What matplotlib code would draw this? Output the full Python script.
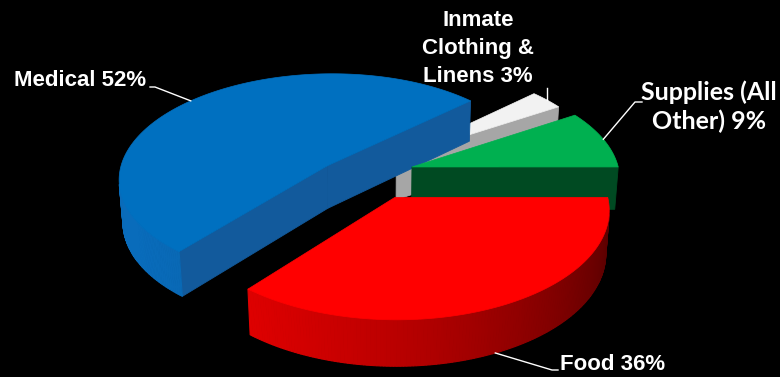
import numpy as np
import matplotlib
matplotlib.use("Agg")
import matplotlib.pyplot as plt
from matplotlib.patches import Polygon
from matplotlib import colors as mcolors

# ---------------- data ----------------
categories = ["Food", "Medical", "Inmate\nClothing &\nLinens", "Supplies (All\nOther)"]
shares = [36, 52, 3, 9]

# ---------------- style / layout ----------------
top_colors = ["#FF0000", "#0070C0", "#F2F2F2", "#00B050"]
wall_colors = ["#FF0000", "#0A78D0", "#B0B0B0", "#00A048"]
cut_colors = ["#8B0000", "#125A9C", "#A6A6A6", "#004A22"]
# explode displacement of each slice on the pie plane (radius units)
slice_shift = [(0.07, -0.21), (-0.257, 0.088), (0.08, 0.17), (0.155, 0.078)]

start_angle = 0.0          # degrees, slices run clockwise
tilt = np.arcsin(0.5)      # viewing elevation
cam_dist = 8.0             # perspective distance (radius units)
thickness = 0.24
scale_px = 208
origin_px = (380, 175)
light_angle = -155.0

W, H = 780, 377
fig = plt.figure(figsize=(W / 100, H / 100), dpi=100, facecolor="black")
ax = fig.add_axes([0, 0, 1, 1])
ax.set_xlim(0, W)
ax.set_ylim(H, 0)
ax.axis("off")
ax.set_facecolor("black")

S, C = np.sin(tilt), np.cos(tilt)
cam = np.array([0.0, -cam_dist * C, cam_dist * S])


def project(X, Y, Z):
    X = np.asarray(X, float)
    Y = np.asarray(Y, float)
    Z = np.asarray(Z, float)
    depth = cam_dist + Y * C - Z * S
    up = Y * S + Z * C
    f = cam_dist / depth
    return origin_px[0] + scale_px * X * f, origin_px[1] - scale_px * up * f


def shade(color, theta):
    b = 0.60 + 0.30 * np.cos(theta - np.radians(light_angle))
    rgb = np.array(mcolors.to_rgb(color)) * b
    return tuple(np.clip(rgb, 0, 1))


def visible(P, nx, ny):
    v = cam - np.asarray(P)
    return v[0] * nx + v[1] * ny > 0


total = float(sum(shares))
cum = np.concatenate([[0], np.cumsum(shares)])
theta1 = start_angle - 360 * cum[:-1] / total
theta2 = start_angle - 360 * cum[1:] / total
mids = (theta1 + theta2) / 2

# draw order: farthest slices first
centroid_y = [slice_shift[i][1] + 0.6 * np.sin(np.radians(mids[i])) for i in range(len(shares))]
order = np.argsort(centroid_y)[::-1]

anchors = {}
for i in order:
    cx, cy = slice_shift[i]
    t1, t2 = theta1[i], theta2[i]
    n = max(int(abs(t1 - t2) / 0.8), 3)
    th = np.radians(np.linspace(t1, t2, n))
    rx = cx + np.cos(th)
    ry = cy + np.sin(th)

    # radial cut faces
    for ang, sgn in ((t1, 1), (t2, -1)):
        a = np.radians(ang)
        na = a + sgn * np.pi / 2
        P = (cx + 0.5 * np.cos(a), cy + 0.5 * np.sin(a), -thickness / 2)
        if visible(P, np.cos(na), np.sin(na)):
            X = [cx, cx + np.cos(a), cx + np.cos(a), cx]
            Y = [cy, cy + np.sin(a), cy + np.sin(a), cy]
            Z = [0, 0, -thickness, -thickness]
            px, py = project(X, Y, Z)
            ax.add_patch(Polygon(np.column_stack([px, py]), closed=True,
                                 facecolor=cut_colors[i], edgecolor=cut_colors[i], lw=0.6))

    # outer wall
    for j in range(n - 1):
        tm = (th[j] + th[j + 1]) / 2
        P = (cx + np.cos(tm), cy + np.sin(tm), -thickness / 2)
        if not visible(P, np.cos(tm), np.sin(tm)):
            continue
        X = [rx[j], rx[j + 1], rx[j + 1], rx[j]]
        Y = [ry[j], ry[j + 1], ry[j + 1], ry[j]]
        Z = [0, 0, -thickness, -thickness]
        px, py = project(X, Y, Z)
        col = shade(wall_colors[i], tm)
        ax.add_patch(Polygon(np.column_stack([px, py]), closed=True,
                             facecolor=col, edgecolor=col, lw=0.8))

    # top face
    X = np.concatenate([[cx], rx])
    Y = np.concatenate([[cy], ry])
    px, py = project(X, Y, np.zeros_like(X))
    ax.add_patch(Polygon(np.column_stack([px, py]), closed=True,
                         facecolor=top_colors[i], edgecolor=top_colors[i], lw=0.5))

    m = np.radians(mids[i])
    zz = -thickness if np.sin(m) < -0.5 else 0.0
    ax_, ay_ = project(cx + np.cos(m), cy + np.sin(m), zz)
    anchors[i] = (float(ax_), float(ay_))

# ---------------- labels ----------------
labels = [f"{c} {v}%" for c, v in zip(categories, shares)]
sans = ["Liberation Sans", "DejaVu Sans"]
round_font = ["Lato", "DejaVu Sans"]

# (x, y of last-line baseline)
label_pos = [(560, 370), (14, 86), (478, 82), (709, 129)]
label_ha = ["left", "left", "center", "center"]
label_fonts = [sans, sans, sans, round_font]
label_sizes = [16, 16, 16, 18]
label_spacing = [1.2, 1.2, 1.45, 1.27]

for i, lab in enumerate(labels):
    ax.text(label_pos[i][0], label_pos[i][1], lab, color="white", fontsize=label_sizes[i],
            fontweight="bold", family=label_fonts[i], ha=label_ha[i], va="baseline",
            linespacing=label_spacing[i], multialignment="center")

# leader lines: anchor on slice -> elbow -> short tick at the label
ax_f, ay_f = anchors[0]
ax.plot([ax_f, 552, 558], [ay_f, 370, 370], color="white", lw=1)
ax_m, ay_m = anchors[1]
ax.plot([ax_m, 155, 150], [ay_m, 87, 87], color="white", lw=1)
ax_c, ay_c = anchors[2]
ax.plot([ax_c, ax_c], [ay_c, 88], color="white", lw=1)
ax_s, ay_s = anchors[3]
ax.plot([ax_s, 635, 642], [ay_s, 102, 102], color="white", lw=1)

fig.savefig("out.png", dpi=100, facecolor="black")
